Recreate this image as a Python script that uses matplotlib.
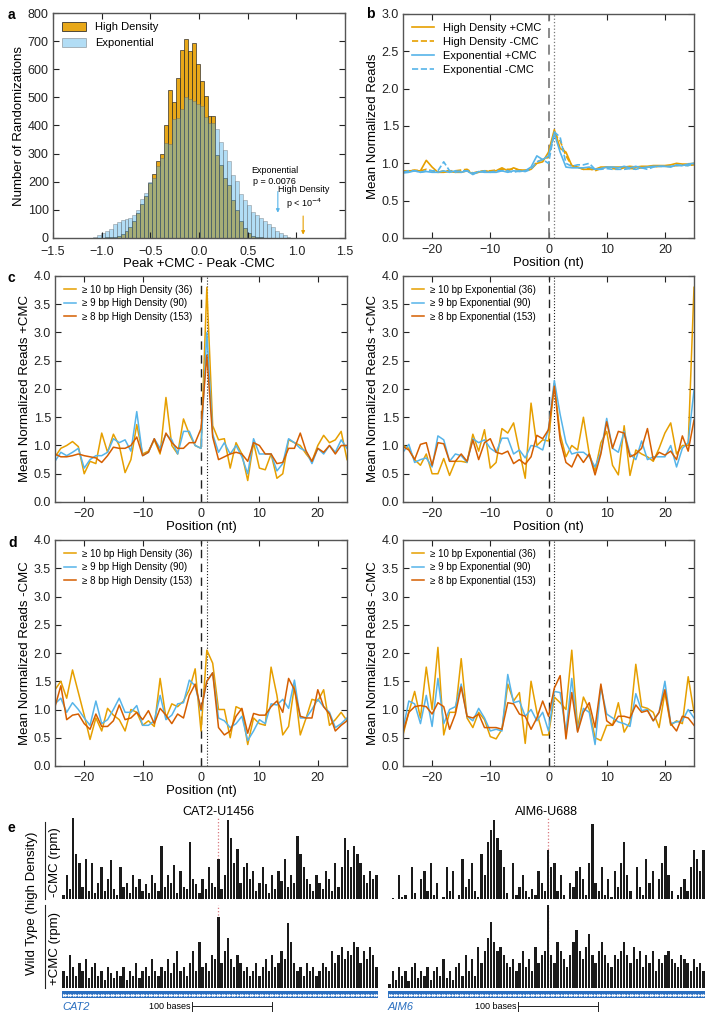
import numpy as np
import matplotlib.pyplot as plt
from matplotlib.patches import Patch
from matplotlib.lines import Line2D

plt.rcParams['font.family'] = ['Liberation Sans', 'DejaVu Sans']
plt.rcParams['font.size'] = 9

ORANGE = '#E69F00'
BLUE = '#56B4E9'
RED = '#D55E00'

# ---------------- data ----------------
# panel a: histogram counts (50 bins)
bin_left = -1.09
bin_width = 0.0406
hd_counts = [0, 0, 1, 2, 3, 5, 8, 15, 25, 40,
             60, 88, 120, 150, 196, 227, 274, 300, 402, 527,
             485, 570, 670, 708, 665, 694, 618, 559, 504, 435,
             433, 294, 259, 212, 188, 135, 100, 59, 35, 18,
             8, 4, 2, 0, 0, 0, 0, 0, 0, 0]
exp_counts = [5, 10, 17, 25, 32, 48, 58, 64, 68, 72,
              80, 100, 140, 160, 200, 212, 255, 286, 339, 335,
              424, 426, 459, 502, 494, 488, 476, 470, 429, 408,
              409, 388, 343, 312, 274, 224, 204, 155, 135, 118,
              94, 80, 70, 59, 48, 38, 26, 18, 10, 4]

positions = np.arange(-25, 26)

# panel b
b_hd_plus = [0.88, 0.9, 0.9, 0.9, 1.04, 0.95, 0.88, 0.88, 0.89, 0.88, 0.88, 0.9, 0.86, 0.88, 0.9, 0.89, 0.9,
             0.94, 0.9, 0.94, 0.91, 0.91, 0.92, 1.0, 1.02, 1.15, 1.45, 1.2, 1.15, 0.97, 0.95, 0.92, 0.92,
             0.92, 0.95, 0.95, 0.95, 0.95, 0.95, 0.96, 0.95, 0.96, 0.96, 0.97, 0.97, 0.97, 0.98, 1.0, 0.99,
             0.99, 1.0]
b_hd_minus = [0.9, 0.9, 0.91, 0.9, 0.92, 0.9, 0.88, 0.9, 0.9, 0.9, 0.91, 0.92, 0.87, 0.89, 0.9, 0.9, 0.91,
              0.92, 0.92, 0.92, 0.91, 0.9, 0.92, 1.02, 1.05, 1.08, 1.4, 1.3, 1.1, 0.97, 0.95, 0.92, 0.93,
              0.9, 0.93, 0.95, 0.93, 0.92, 0.94, 0.93, 0.93, 0.94, 0.95, 0.95, 0.96, 0.96, 0.96, 0.97, 0.98,
              0.97, 0.98]
b_exp_plus = [0.87, 0.88, 0.9, 0.88, 0.89, 0.88, 0.88, 0.9, 0.88, 0.9, 0.88, 0.9, 0.85, 0.89, 0.88, 0.88, 0.88,
              0.9, 0.88, 0.9, 0.89, 0.9, 0.95, 1.1, 1.05, 1.1, 1.4, 1.15, 0.95, 0.94, 0.94, 0.94, 0.95,
              0.92, 0.93, 0.95, 0.95, 0.94, 0.96, 0.94, 0.96, 0.94, 0.95, 0.96, 0.96, 0.96, 0.95, 0.98, 0.97,
              0.99, 1.0]
b_exp_minus = [0.88, 0.9, 0.9, 0.88, 0.9, 0.9, 0.9, 1.02, 0.9, 0.88, 0.9, 0.9, 0.87, 0.88, 0.9, 0.88, 0.9,
               0.9, 0.9, 0.88, 0.9, 0.89, 0.92, 1.02, 1.05, 1.0, 1.42, 1.35, 1.0, 0.96, 0.98, 0.98, 1.0,
               0.92, 0.92, 0.93, 0.92, 0.92, 0.92, 0.93, 0.92, 0.94, 0.92, 0.95, 0.96, 0.96, 0.96, 0.97, 0.97,
               0.97, 0.99]

# panel c left: High Density +CMC
c_hd_10 = [0.8, 0.95, 1.0, 1.07, 0.98, 0.5, 0.72, 0.68, 1.22, 0.88, 1.2, 1.0, 0.52, 0.75, 1.37, 0.85, 0.9,
           1.1, 0.85, 1.85, 1.0, 0.85, 1.47, 1.2, 1.0, 0.95, 3.8, 1.35, 1.1, 1.12, 0.6, 1.05, 0.85, 0.38,
           1.05, 0.6, 0.57, 0.85, 0.42, 0.5, 1.1, 1.05, 1.0, 0.85, 0.72, 1.0, 1.18, 1.05, 1.1, 1.25, 0.75]
c_hd_9 = [0.72, 0.88, 0.82, 0.88, 0.95, 0.6, 0.75, 0.82, 0.82, 0.88, 1.12, 1.05, 1.1, 0.9, 1.6, 0.82, 0.88,
          1.12, 0.95, 1.2, 1.1, 0.85, 1.25, 1.25, 1.0, 0.95, 3.0, 1.2, 0.88, 1.05, 0.85, 1.0, 0.8, 0.5,
          1.12, 0.85, 0.85, 0.85, 0.55, 0.68, 1.12, 1.05, 0.95, 0.9, 0.68, 0.95, 0.85, 1.0, 0.88, 1.1, 0.95]
c_hd_8 = [0.85, 0.8, 0.8, 0.82, 0.85, 0.82, 0.8, 0.78, 0.7, 0.82, 0.97, 0.95, 0.95, 1.0, 1.15, 0.82, 0.88,
          1.12, 0.88, 1.22, 1.05, 0.95, 0.95, 1.05, 1.05, 1.3, 2.6, 1.15, 0.75, 0.8, 0.85, 0.88, 0.85, 0.72,
          1.05, 1.0, 0.85, 0.85, 0.68, 0.7, 0.95, 0.95, 1.22, 0.9, 0.72, 0.95, 0.88, 1.0, 0.85, 1.0, 1.0]
# panel c right: Exponential +CMC
c_exp_10 = [1.0, 0.95, 0.75, 0.65, 0.85, 0.5, 0.5, 0.77, 0.47, 0.72, 0.72, 0.7, 1.2, 0.9, 1.28, 0.6, 0.7,
            1.3, 1.22, 1.4, 0.9, 0.42, 1.75, 1.0, 1.1, 1.08, 2.1, 1.2, 0.8, 1.0, 0.92, 1.5, 0.85, 0.55,
            1.05, 1.25, 0.65, 0.48, 1.35, 0.47, 0.92, 0.85, 0.8, 0.72, 0.95, 1.22, 1.4, 0.85, 1.0, 1.0, 3.8]
c_exp_9 = [0.88, 1.02, 0.7, 0.75, 0.78, 0.62, 1.17, 1.1, 0.72, 0.85, 0.82, 0.7, 1.12, 1.05, 1.1, 0.95, 0.88,
           1.13, 1.13, 0.85, 0.92, 0.78, 1.0, 0.98, 0.92, 1.3, 2.15, 1.55, 1.05, 0.85, 0.88, 0.88, 0.8, 0.62,
           0.88, 1.48, 0.95, 0.88, 1.25, 0.85, 0.75, 1.08, 0.75, 0.8, 0.8, 0.8, 1.0, 0.62, 0.95, 1.05, 1.98]
c_exp_8 = [0.98, 0.92, 0.75, 1.02, 1.05, 0.65, 1.05, 1.03, 0.72, 0.72, 0.85, 0.72, 1.1, 0.75, 1.05, 1.12, 0.88,
           0.85, 0.9, 0.68, 0.75, 0.67, 0.8, 1.18, 1.12, 1.28, 2.05, 1.1, 0.7, 0.62, 0.85, 0.7, 0.85, 0.48,
           0.85, 1.42, 0.95, 1.25, 1.22, 0.8, 0.85, 0.95, 1.3, 0.75, 0.88, 0.83, 0.9, 0.75, 1.17, 0.9, 1.45]
# panel d left: High Density -CMC
d_hd_10 = [1.35, 1.5, 1.2, 1.7, 1.3, 0.9, 0.47, 0.85, 0.62, 1.02, 0.9, 0.82, 0.62, 1.0, 0.95, 0.72, 0.8,
           0.7, 1.55, 0.85, 1.1, 1.05, 1.15, 1.35, 1.72, 0.62, 2.05, 1.82, 1.0, 1.0, 0.5, 1.05, 1.0, 0.38,
           0.85, 0.75, 0.72, 1.75, 1.25, 0.55, 0.7, 1.42, 0.55, 0.85, 1.18, 1.15, 1.35, 0.72, 0.82, 0.95, 0.8]
d_hd_9 = [1.1, 1.2, 0.95, 1.12, 1.0, 0.85, 0.72, 1.15, 0.75, 0.82, 1.0, 1.2, 0.95, 0.95, 1.07, 0.72, 0.72,
          0.8, 1.25, 0.82, 0.9, 1.1, 1.12, 1.52, 1.42, 0.98, 1.5, 1.65, 0.85, 0.8, 0.68, 0.75, 0.88, 0.45,
          0.62, 0.82, 0.75, 1.1, 1.08, 1.18, 1.02, 1.52, 0.85, 0.85, 1.0, 1.18, 1.05, 0.95, 0.68, 0.75, 0.85]
d_hd_8 = [1.05, 1.42, 0.82, 0.9, 0.92, 0.75, 0.65, 0.92, 0.7, 0.7, 0.8, 1.08, 0.82, 0.85, 0.95, 0.82, 0.98,
          0.75, 1.02, 0.9, 0.75, 0.92, 0.85, 1.25, 1.45, 1.0, 1.5, 1.65, 0.68, 0.55, 0.62, 0.88, 1.02, 0.58,
          0.93, 0.9, 0.9, 1.05, 1.15, 0.95, 1.55, 1.35, 0.88, 0.85, 0.85, 1.35, 1.05, 0.92, 0.62, 0.72, 0.8]
# panel d right: Exponential -CMC
d_exp_10 = [0.55, 0.95, 1.32, 0.85, 1.75, 1.0, 2.1, 0.55, 0.95, 0.95, 1.9, 0.85, 0.68, 0.95, 0.82, 0.52, 0.48,
            0.65, 1.45, 1.15, 1.3, 0.4, 1.5, 0.95, 0.55, 0.55, 1.22, 1.12, 1.0, 2.05, 0.68, 1.22, 1.0, 0.5,
            0.45, 0.72, 0.72, 1.12, 0.6, 0.78, 1.8, 1.05, 1.02, 0.95, 0.68, 1.3, 0.72, 0.8, 0.75, 1.58, 0.95]
d_exp_9 = [0.65, 1.15, 1.1, 0.75, 1.25, 0.7, 1.55, 0.75, 1.0, 1.05, 1.45, 0.88, 0.8, 1.02, 0.85, 0.62, 0.65,
           0.62, 1.62, 1.12, 1.15, 0.88, 1.0, 0.8, 0.95, 0.62, 1.32, 1.3, 0.6, 1.55, 0.62, 1.02, 0.95, 0.38,
           1.4, 0.92, 0.85, 0.78, 0.75, 0.7, 1.28, 0.98, 1.0, 0.8, 0.95, 1.5, 0.75, 0.78, 0.8, 1.0, 0.85]
d_exp_8 = [0.6, 0.95, 1.05, 1.07, 1.05, 0.92, 1.12, 1.05, 0.65, 0.92, 1.4, 0.88, 0.85, 0.92, 0.68, 0.68, 0.68,
           0.65, 1.12, 1.1, 0.92, 0.88, 0.65, 0.85, 1.15, 0.88, 1.38, 1.6, 0.48, 1.3, 0.6, 0.95, 1.12, 0.68,
           1.45, 0.8, 0.72, 0.88, 0.88, 0.85, 1.08, 0.95, 0.98, 0.8, 0.95, 1.35, 0.75, 0.62, 0.88, 0.85, 0.72]

# panel e: read tracks (relative rpm, 100 bins per gene window)
cat2_minus = [5, 30, 12, 100, 55, 45, 15, 50, 10, 45,
              8, 20, 40, 10, 25, 48, 12, 5, 40, 15,
              20, 8, 30, 15, 25, 10, 18, 8, 30, 20,
              10, 65, 15, 30, 20, 42, 8, 35, 15, 12,
              70, 25, 18, 8, 25, 12, 40, 20, 15, 50,
              12, 30, 98, 75, 45, 62, 20, 40, 45, 25,
              35, 10, 20, 40, 18, 8, 30, 12, 35, 22,
              50, 15, 30, 20, 78, 55, 40, 25, 18, 10,
              30, 20, 12, 35, 25, 10, 45, 15, 40, 75,
              60, 40, 65, 55, 45, 30, 20, 35, 25, 30]
cat2_plus = [20, 15, 40, 25, 15, 30, 20, 35, 12, 25,
             30, 15, 20, 10, 25, 18, 12, 20, 15, 25,
             10, 20, 15, 30, 12, 20, 25, 15, 35, 20,
             15, 25, 20, 35, 18, 30, 45, 20, 25, 15,
             30, 45, 20, 55, 25, 30, 20, 40, 35, 85,
             30, 45, 60, 35, 25, 40, 30, 20, 25, 15,
             20, 30, 15, 25, 35, 20, 40, 25, 30, 45,
             35, 78, 55, 30, 20, 25, 15, 30, 20, 25,
             15, 20, 30, 25, 20, 45, 30, 40, 50, 35,
             45, 40, 55, 50, 30, 45, 35, 50, 40, 25]
aim6_minus = [0, 1, 0, 30, 2, 5, 0, 40, 8, 0,
              25, 35, 10, 45, 5, 20, 0, 3, 40, 10,
              35, 0, 5, 50, 15, 25, 45, 10, 2, 55,
              30, 70, 85, 98, 75, 60, 40, 8, 0, 45,
              5, 15, 30, 10, 2, 12, 5, 35, 20, 10,
              60, 40, 45, 10, 30, 5, 0, 20, 15, 35,
              40, 25, 5, 45, 92, 20, 10, 40, 5, 25,
              2, 35, 15, 45, 70, 30, 10, 0, 40, 15,
              5, 50, 20, 35, 0, 25, 45, 65, 30, 10,
              0, 5, 15, 25, 10, 40, 60, 50, 35, 60]
aim6_plus = [5, 20, 10, 25, 15, 20, 8, 25, 30, 12,
             20, 15, 25, 10, 20, 25, 15, 35, 12, 20,
             10, 25, 30, 15, 40, 20, 35, 15, 50, 30,
             45, 60, 80, 55, 45, 50, 40, 30, 25, 35,
             20, 30, 45, 25, 35, 20, 50, 30, 40, 45,
             100, 40, 30, 55, 45, 35, 25, 40, 55, 70,
             45, 35, 50, 65, 40, 30, 45, 55, 40, 30,
             25, 40, 35, 45, 55, 40, 30, 50, 35, 45,
             25, 40, 30, 45, 20, 35, 30, 40, 45, 35,
             30, 25, 40, 35, 30, 20, 35, 25, 30, 20]
site_bin = {'CAT2': 49, 'AIM6': 50}
bases_per_bin = 3.95

# ---------------- figure ----------------
W, H = 712, 1013
fig = plt.figure(figsize=(W / 100, H / 100), dpi=100)


def px_axes(l, t, r, b):
    return fig.add_axes([l / W, 1 - b / H, (r - l) / W, (b - t) / H])


def style(ax):
    ax.tick_params(direction='in', top=True, right=True, length=4, width=0.8,
                   labelsize=9, colors='#222222', pad=3)
    ax.tick_params(axis='x', pad=4)
    for s in ax.spines.values():
        s.set_color('#555555')
        s.set_linewidth(1.0)


def letter(x, y, s):
    fig.text(x / W, 1 - y / H, s, fontsize=10, fontweight='bold', ha='left', va='center')


# panel a
ax = px_axes(53, 13, 345, 238)
centers = bin_left + bin_width * (np.arange(len(hd_counts)) + 0.5)
ax.bar(centers, hd_counts, width=bin_width, color=ORANGE, edgecolor='#222222', linewidth=0.5, alpha=0.9)
ax.bar(centers, exp_counts, width=bin_width, color=BLUE, edgecolor='#555555', linewidth=0.5, alpha=0.45)
ax.set_xlim(-1.5, 1.5)
ax.set_ylim(0, 800)
ax.set_xticks(np.arange(-1.5, 1.51, 0.5))
ax.set_yticks(np.arange(0, 801, 100))
ax.set_xlabel('Peak +CMC - Peak -CMC', fontsize=9.5, labelpad=0)
ax.set_ylabel('Number of Randomizations', fontsize=9.5, labelpad=2)
style(ax)
ax.tick_params(axis='x', pad=6)
ax.legend(handles=[Patch(facecolor=ORANGE, edgecolor='#222222', linewidth=0.6, alpha=0.9),
                   Patch(facecolor=BLUE, edgecolor='#555555', linewidth=0.6, alpha=0.45)],
          labels=['High Density', 'Exponential'], loc='upper left', frameon=False,
          fontsize=8, handlelength=2.2, handleheight=0.9, borderaxespad=0.4)
ax.annotate('', xy=(0.81, 80), xytext=(0.81, 175),
            arrowprops=dict(arrowstyle='-|>', color=BLUE, lw=0.8, mutation_scale=5))
ax.text(0.78, 185, 'Exponential\np = 0.0076', fontsize=6.5, ha='center', va='bottom', linespacing=1.3)
ax.annotate('', xy=(1.07, 2), xytext=(1.07, 88),
            arrowprops=dict(arrowstyle='-|>', color=ORANGE, lw=0.8, mutation_scale=5))
ax.text(1.08, 95, 'High Density\np < 10$^{-4}$', fontsize=6.5, ha='center', va='bottom', linespacing=1.3)
letter(8, 15, 'a')

# panel b
ax = px_axes(403, 14, 694, 238)
ax.axvline(0, color='#777777', ls=(0, (6, 4)), lw=1.2)
ax.axvline(1, color='#777777', ls=':', lw=0.9)
ax.plot(positions, b_hd_plus, color=ORANGE, lw=1.2, label='High Density +CMC')
ax.plot(positions, b_hd_minus, color=ORANGE, lw=1.2, ls='--', label='High Density -CMC')
ax.plot(positions, b_exp_plus, color=BLUE, lw=1.2, label='Exponential +CMC')
ax.plot(positions, b_exp_minus, color=BLUE, lw=1.2, ls='--', label='Exponential -CMC')
ax.set_xlim(-25, 25)
ax.set_ylim(0, 3)
ax.set_xticks([-20, -10, 0, 10, 20])
ax.set_yticks(np.arange(0, 3.01, 0.5))
ax.set_xlabel('Position (nt)', fontsize=9.5, labelpad=1)
ax.set_ylabel('Mean Normalized Reads', fontsize=9.5, labelpad=2)
style(ax)
ax.legend(loc='upper left', frameon=False, fontsize=8, handlelength=2.0, labelspacing=0.35,
          borderaxespad=0.4)
letter(366, 14, 'b')


def profile(ax, s10, s9, s8, cond, ylab, xlab=True):
    ax.axvline(0, color='#222222', ls=(0, (6, 4)), lw=1.0)
    ax.axvline(1, color='#222222', ls=':', lw=0.8)
    ax.plot(positions, s10, color=ORANGE, lw=1.1, label='\u2265 10 bp %s (36)' % cond)
    ax.plot(positions, s9, color=BLUE, lw=1.1, label='\u2265 9 bp %s (90)' % cond)
    ax.plot(positions, s8, color=RED, lw=1.1, label='\u2265 8 bp %s (153)' % cond)
    ax.set_xlim(-25, 25)
    ax.set_ylim(0, 4)
    ax.set_xticks([-20, -10, 0, 10, 20])
    ax.set_yticks(np.arange(0, 4.01, 0.5))
    if xlab:
        ax.set_xlabel('Position (nt)', fontsize=9.5, labelpad=1)
    ax.set_ylabel(ylab, fontsize=9.5, labelpad=2)
    style(ax)
    ax.legend(loc='upper left', frameon=False, fontsize=7, handlelength=1.3, handletextpad=0.6,
              labelspacing=0.35, borderaxespad=0.5)


profile(px_axes(55, 276, 347, 502), c_hd_10, c_hd_9, c_hd_8, 'High Density', 'Mean Normalized Reads +CMC')
profile(px_axes(403, 276, 694, 502), c_exp_10, c_exp_9, c_exp_8, 'Exponential', 'Mean Normalized Reads +CMC')
profile(px_axes(55, 540, 347, 766), d_hd_10, d_hd_9, d_hd_8, 'High Density', 'Mean Normalized Reads -CMC')
profile(px_axes(403, 540, 694, 766), d_exp_10, d_exp_9, d_exp_8, 'Exponential', 'Mean Normalized Reads -CMC',
        xlab=False)
letter(8, 278, 'c')
letter(8, 543, 'd')

# panel e
letter(8, 828, 'e')


def track(l, r, t, b, vals, site):
    ax = px_axes(l, t, r, b)
    x = np.arange(len(vals))
    ax.axvline(site, color='#d9777f', ls=':', lw=0.9, zorder=0)
    ax.bar(x, vals, width=0.72, color='#1a1a1a', linewidth=0)
    ax.set_xlim(-0.5, len(vals) - 0.5)
    ax.set_ylim(0, 100)
    ax.axis('off')
    return ax


def gene(l, r, name, n):
    ax = px_axes(l, 991, r, 998)
    ax.set_xlim(-0.5, n - 0.5)
    ax.set_ylim(0, 1)
    ax.axhspan(0, 1, color='#2a6fc0')
    ax.plot(np.arange(0, n, 0.8), np.full(len(np.arange(0, n, 0.8)), 0.5), ls='none', marker='>',
            ms=2.3, color='white', mew=0)
    ax.axis('off')
    ax.text(-0.5, -0.6, name, color='#2a6fc0', fontsize=8, style='italic', ha='left', va='top',
            transform=ax.transData, clip_on=False)
    x0 = 40.5
    x1 = x0 + 100 / bases_per_bin
    ax.plot([x0, x1], [-1.2, -1.2], color='#222222', lw=0.7, clip_on=False)
    ax.plot([x0, x0], [-0.6, -1.8], color='#222222', lw=0.7, clip_on=False)
    ax.plot([x1, x1], [-0.6, -1.8], color='#222222', lw=0.7, clip_on=False)
    ax.text(x0 - 0.4, -1.2, '100 bases', fontsize=6.5, ha='right', va='center', clip_on=False)


track(62, 378, 818, 899, cat2_minus, site_bin['CAT2'])
track(62, 378, 905, 988, cat2_plus, site_bin['CAT2'])
track(388, 705, 818, 899, aim6_minus, site_bin['AIM6'])
track(388, 705, 905, 988, aim6_plus, site_bin['AIM6'])
gene(62, 378, 'CAT2', len(cat2_plus))
gene(388, 705, 'AIM6', len(aim6_plus))

fig.text(218 / W, 1 - 812 / H, 'CAT2-U1456', fontsize=9, ha='center', va='center')
fig.text(546 / W, 1 - 812 / H, 'AIM6-U688', fontsize=9, ha='center', va='center')
fig.text(32 / W, 1 - 903 / H, 'Wild Type (high Density)', fontsize=9.5, rotation=90, ha='center', va='center')
fig.text(55 / W, 1 - 862 / H, '-CMC (rpm)', fontsize=9.5, rotation=90, ha='center', va='center')
fig.text(55 / W, 1 - 948 / H, '+CMC (rpm)', fontsize=9.5, rotation=90, ha='center', va='center')
fig.add_artist(Line2D([45 / W, 45 / W], [1 - 822 / H, 1 - 899 / H], color='#222222', lw=0.8))
fig.add_artist(Line2D([45 / W, 45 / W], [1 - 905 / H, 1 - 988 / H], color='#222222', lw=0.8))

fig.savefig('out.png', dpi=100)
